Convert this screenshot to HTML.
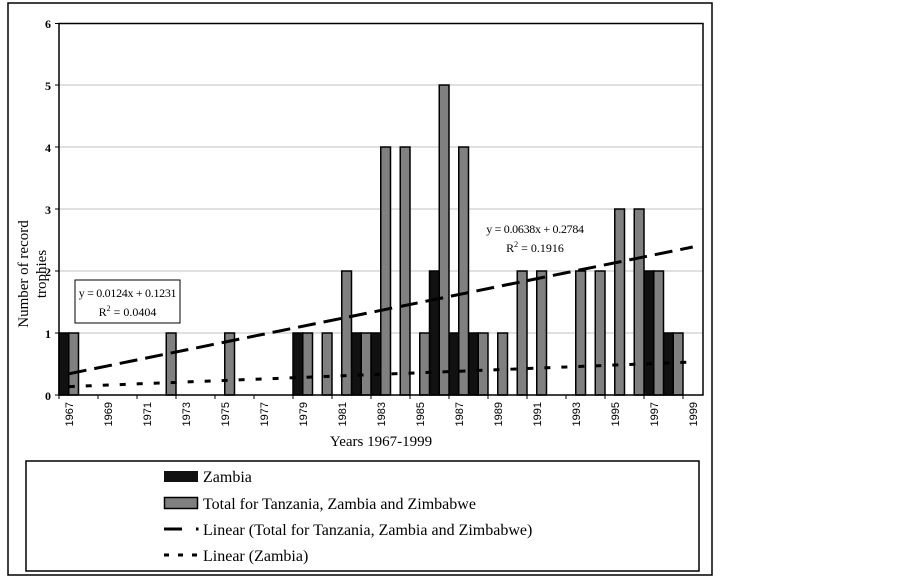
<!DOCTYPE html>
<html><head><meta charset="utf-8"><style>body{margin:0;background:#fff}svg{display:block}</style></head><body>
<svg width="902" height="577" viewBox="0 0 902 577" xmlns="http://www.w3.org/2000/svg" font-family="Liberation Serif, serif">
<rect x="8" y="3" width="704" height="572" fill="#fff" stroke="#000" stroke-width="1.5"/>
<g stroke="#c0c0c0" stroke-width="1">
<line x1="59" y1="333" x2="703" y2="333"/><line x1="59" y1="271" x2="703" y2="271"/><line x1="59" y1="209" x2="703" y2="209"/><line x1="59" y1="147" x2="703" y2="147"/><line x1="59" y1="85" x2="703" y2="85"/>
</g>
<g fill="#111" stroke="#000" stroke-width="1.5">
<rect x="59" y="333" width="9.75" height="62"/>
<rect x="293" y="333" width="9.75" height="62"/>
<rect x="351.5" y="333" width="9.75" height="62"/>
<rect x="371" y="333" width="9.75" height="62"/>
<rect x="429.5" y="271" width="9.75" height="124"/>
<rect x="449" y="333" width="9.75" height="62"/>
<rect x="468.5" y="333" width="9.75" height="62"/>
<rect x="644" y="271" width="9.75" height="124"/>
<rect x="663.5" y="333" width="9.75" height="62"/>
</g>
<g fill="#808080" stroke="#000" stroke-width="1.5">
<rect x="68.75" y="333" width="9.75" height="62"/>
<rect x="166.25" y="333" width="9.75" height="62"/>
<rect x="224.75" y="333" width="9.75" height="62"/>
<rect x="302.75" y="333" width="9.75" height="62"/>
<rect x="322.25" y="333" width="9.75" height="62"/>
<rect x="341.75" y="271" width="9.75" height="124"/>
<rect x="361.25" y="333" width="9.75" height="62"/>
<rect x="380.75" y="147" width="9.75" height="248"/>
<rect x="400.25" y="147" width="9.75" height="248"/>
<rect x="419.75" y="333" width="9.75" height="62"/>
<rect x="439.25" y="85" width="9.75" height="310"/>
<rect x="458.75" y="147" width="9.75" height="248"/>
<rect x="478.25" y="333" width="9.75" height="62"/>
<rect x="497.75" y="333" width="9.75" height="62"/>
<rect x="517.25" y="271" width="9.75" height="124"/>
<rect x="536.75" y="271" width="9.75" height="124"/>
<rect x="575.75" y="271" width="9.75" height="124"/>
<rect x="595.25" y="271" width="9.75" height="124"/>
<rect x="614.75" y="209" width="9.75" height="186"/>
<rect x="634.25" y="209" width="9.75" height="186"/>
<rect x="653.75" y="271" width="9.75" height="124"/>
<rect x="673.25" y="333" width="9.75" height="62"/>
</g>
<line x1="68.75" y1="373.8" x2="692.75" y2="247" stroke="#000" stroke-width="3" stroke-dasharray="18 8"/>
<line x1="68.75" y1="386.6" x2="692.75" y2="362" stroke="#000" stroke-width="3" stroke-dasharray="6 11"/>
<rect x="59" y="23.5" width="644" height="371.5" fill="none" stroke="#000" stroke-width="1.5"/>
<g stroke="#000" stroke-width="1">
<line x1="55" y1="23.5" x2="59" y2="23.5"/><line x1="55" y1="85" x2="59" y2="85"/><line x1="55" y1="147" x2="59" y2="147"/><line x1="55" y1="209" x2="59" y2="209"/><line x1="55" y1="271" x2="59" y2="271"/><line x1="55" y1="333" x2="59" y2="333"/><line x1="55" y1="395" x2="59" y2="395"/>
<line x1="59" y1="395" x2="59" y2="399"/><line x1="98" y1="395" x2="98" y2="399"/><line x1="137" y1="395" x2="137" y2="399"/><line x1="176" y1="395" x2="176" y2="399"/><line x1="215" y1="395" x2="215" y2="399"/><line x1="254" y1="395" x2="254" y2="399"/><line x1="293" y1="395" x2="293" y2="399"/><line x1="332" y1="395" x2="332" y2="399"/><line x1="371" y1="395" x2="371" y2="399"/><line x1="410" y1="395" x2="410" y2="399"/><line x1="449" y1="395" x2="449" y2="399"/><line x1="488" y1="395" x2="488" y2="399"/><line x1="527" y1="395" x2="527" y2="399"/><line x1="566" y1="395" x2="566" y2="399"/><line x1="605" y1="395" x2="605" y2="399"/><line x1="644" y1="395" x2="644" y2="399"/><line x1="683" y1="395" x2="683" y2="399"/>
</g>
<g font-size="12" font-weight="bold" text-anchor="end">
<text x="51" y="28">6</text><text x="51" y="90">5</text><text x="51" y="152">4</text><text x="51" y="214">3</text><text x="51" y="276">2</text><text x="51" y="338">1</text><text x="51" y="400">0</text>
</g>
<g font-family="Liberation Sans, sans-serif" font-size="11" text-anchor="end">
<text transform="translate(72.75,402) rotate(-90)">1967</text>
<text transform="translate(111.75,402) rotate(-90)">1969</text>
<text transform="translate(150.75,402) rotate(-90)">1971</text>
<text transform="translate(189.75,402) rotate(-90)">1973</text>
<text transform="translate(228.75,402) rotate(-90)">1975</text>
<text transform="translate(267.75,402) rotate(-90)">1977</text>
<text transform="translate(306.75,402) rotate(-90)">1979</text>
<text transform="translate(345.75,402) rotate(-90)">1981</text>
<text transform="translate(384.75,402) rotate(-90)">1983</text>
<text transform="translate(423.75,402) rotate(-90)">1985</text>
<text transform="translate(462.75,402) rotate(-90)">1987</text>
<text transform="translate(501.75,402) rotate(-90)">1989</text>
<text transform="translate(540.75,402) rotate(-90)">1991</text>
<text transform="translate(579.75,402) rotate(-90)">1993</text>
<text transform="translate(618.75,402) rotate(-90)">1995</text>
<text transform="translate(657.75,402) rotate(-90)">1997</text>
<text transform="translate(696.75,402) rotate(-90)">1999</text>
</g>
<text x="381" y="446" font-size="15" text-anchor="middle">Years 1967-1999</text>
<text transform="translate(28,274) rotate(-90)" font-size="15" text-anchor="middle">Number of record</text>
<text transform="translate(46,274) rotate(-90)" font-size="15" text-anchor="middle">trophies</text>
<rect x="75" y="280" width="105" height="43" fill="#fff" stroke="#000" stroke-width="1"/>
<text x="127.5" y="297" font-size="12" text-anchor="middle" letter-spacing="-0.3">y = 0.0124x + 0.1231</text>
<text x="127.5" y="316" font-size="12" text-anchor="middle">R<tspan dy="-5" font-size="8">2</tspan><tspan dy="5"> = 0.0404</tspan></text>
<text x="535" y="233" font-size="12" text-anchor="middle" letter-spacing="-0.3">y = 0.0638x + 0.2784</text>
<text x="535" y="252" font-size="12" text-anchor="middle">R<tspan dy="-5" font-size="8">2</tspan><tspan dy="5"> = 0.1916</tspan></text>
<rect x="26" y="461" width="673" height="110" fill="#fff" stroke="#000" stroke-width="1.5"/>
<rect x="164" y="471" width="34" height="11" fill="#111"/>
<rect x="164.5" y="497.5" width="33" height="11" fill="#808080" stroke="#000" stroke-width="1.5"/>
<line x1="164" y1="529" x2="182" y2="529" stroke="#000" stroke-width="3"/><rect x="196" y="527.5" width="2.5" height="3" fill="#000"/>
<line x1="164" y1="555" x2="198" y2="555" stroke="#000" stroke-width="3" stroke-dasharray="5 9"/>
<g font-size="16">
<text x="203" y="482">Zambia</text>
<text x="203" y="509">Total for Tanzania, Zambia and Zimbabwe</text>
<text x="203" y="535">Linear (Total for Tanzania, Zambia and Zimbabwe)</text>
<text x="203" y="561">Linear (Zambia)</text>
</g>
</svg>
</body></html>
